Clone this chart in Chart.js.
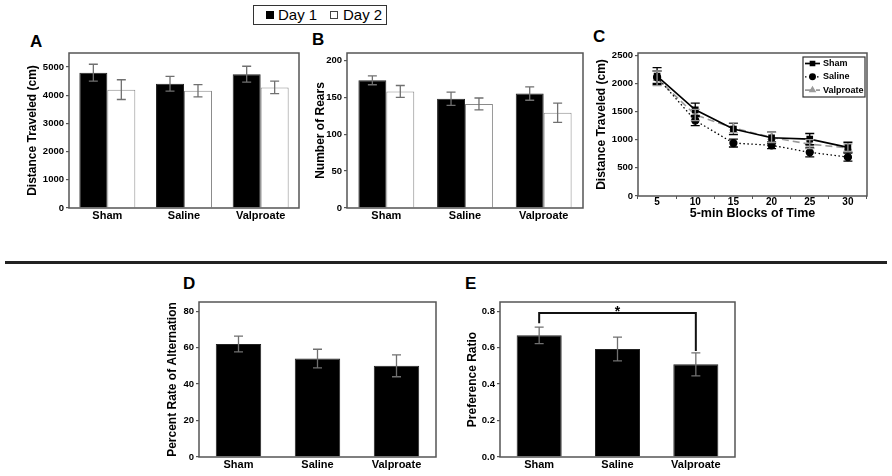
<!DOCTYPE html>
<html>
<head>
<meta charset="utf-8">
<script src="https://cdn.jsdelivr.net/npm/chart.js@4.4.0/dist/chart.umd.min.js"></script>
<style>
  body { margin: 0; background: #fff; width: 892px; height: 476px; position: relative; overflow: hidden;
         font-family: "Liberation Sans", Arial, sans-serif; }
  .panel { position: absolute; }
  .letter { position: absolute; font-weight: bold; font-size: 17px; line-height: 17px; }
  #divider { position: absolute; left: 5px; top: 261px; width: 882px; height: 2.5px; background: #222; }
  #dayLegend { position: absolute; left: 253px; top: 5px; width: 134px; height: 20px; box-sizing: border-box;
               border: 1px solid #333; font-size: 15px; }
  #dayLegend span { position: absolute; }
  .sq { width: 8px; height: 8px; box-sizing: border-box; top: 5px; }
</style>
</head>
<body>
<div id="dayLegend">
  <span class="sq" style="left:12px;background:#000"></span>
  <span style="left:24px;top:0;line-height:18px">Day 1</span>
  <span class="sq" style="left:76px;border:1px solid #444;background:#fff"></span>
  <span style="left:89px;top:0;line-height:18px">Day 2</span>
</div>
<div class="letter" style="left:30px;top:33px">A</div>
<div class="letter" style="left:312px;top:31px">B</div>
<div class="letter" style="left:593px;top:28px">C</div>
<div class="letter" style="left:183px;top:275px">D</div>
<div class="letter" style="left:465px;top:275px">E</div>
<div id="divider"></div>

<div class="panel" id="pA"><canvas id="cA"></canvas></div>
<div class="panel" id="pB"><canvas id="cB"></canvas></div>
<div class="panel" id="pC"><canvas id="cC"></canvas></div>
<div class="panel" id="pD"><canvas id="cD"></canvas></div>
<div class="panel" id="pE"><canvas id="cE"></canvas></div>

<script>
// groups and days
const groups = ["Sham", "Saline", "Valproate"];
const dayLabels = ["Day 1", "Day 2"];

// A - distance traveled
const distDay1 = [4800, 4410, 4750];
const distDay1Err = [300, 260, 280];
const distDay2 = [4200, 4160, 4280];
const distDay2Err = [350, 220, 220];
const distTicks = [0, 1000, 2000, 3000, 4000, 5000];

// B - rears
const rearsDay1 = [173, 148, 155];
const rearsDay1Err = [6, 9, 9];
const rearsDay2 = [158, 141, 129];
const rearsDay2Err = [8, 8, 13];
const rearsTicks = [0, 50, 100, 150, 200];

// C - time course
const timeBlocks = ["5", "10", "15", "20", "25", "30"];
const seriesC = ["Sham", "Saline", "Valproate"];
const shamTime = [2130, 1530, 1190, 1035, 1010, 865];
const shamTimeErr = [150, 120, 100, 100, 100, 90];
const salineTime = [2110, 1340, 940, 900, 775, 690];
const salineTimeErr = [110, 90, 70, 60, 80, 70];
const valproateTime = [2090, 1440, 1210, 1040, 920, 855];
const valproateTimeErr = [130, 100, 90, 90, 80, 70];
const timeTicks = [0, 500, 1000, 1500, 2000, 2500];

// D - alternation
const alternation = [62, 54, 50];
const alternationErr = [4.3, 5.1, 6];
const altTicks = [0, 20, 40, 60, 80];

// E - preference ratio
const prefRatio = [0.667, 0.592, 0.508];
const prefErr = [0.045, 0.065, 0.063];
const prefTicks = [0, 0.2, 0.4, 0.6, 0.8];
const sigLevel = 0.79;

Chart.defaults.font.family = '"Liberation Sans", Arial, sans-serif';
Chart.defaults.font.weight = "bold";
Chart.defaults.color = "#000";
Chart.defaults.animation = false;

const PAD_TOP = 12, PAD_RIGHT = 8;

// size the wrapper so the plot area lands on L,T,R,B
function place(id, L, T, R, B, yAxW, xAxH) {
  const div = document.getElementById(id);
  div.style.left = (L - yAxW) + "px";
  div.style.top = (T - PAD_TOP) + "px";
  div.style.width = (R - L + yAxW + PAD_RIGHT) + "px";
  div.style.height = (B - T + PAD_TOP + xAxH) + "px";
}

const plotBox = {
  id: "plotBox",
  afterDraw(chart) {
    const a = chart.chartArea, c = chart.ctx;
    c.save();
    c.strokeStyle = "#555";
    c.lineWidth = 1.5;
    c.strokeRect(a.left, a.top, a.right - a.left, a.bottom - a.top);
    c.restore();
  }
};

const errorBars = {
  id: "errorBars",
  afterDatasetsDraw(chart) {
    const c = chart.ctx, y = chart.scales.y;
    chart.data.datasets.forEach((ds, i) => {
      if (!ds.errors) return;
      const meta = chart.getDatasetMeta(i);
      c.save();
      c.strokeStyle = ds.errorColor || "#707070";
      c.lineWidth = 1.3;
      meta.data.forEach((el, j) => {
        const top = y.getPixelForValue(ds.data[j] + ds.errors[j]);
        const bot = y.getPixelForValue(ds.data[j] - ds.errors[j]);
        c.beginPath();
        c.moveTo(el.x, top); c.lineTo(el.x, bot);
        c.moveTo(el.x - 4.5, top); c.lineTo(el.x + 4.5, top);
        c.moveTo(el.x - 4.5, bot); c.lineTo(el.x + 4.5, bot);
        c.stroke();
      });
      c.restore();
    });
  }
};

function yScale(max, ticks, title, width, fmt) {
  return {
    min: 0,
    max: max,
    afterBuildTicks: (s) => { s.ticks = ticks.map((v) => ({ value: v })); },
    afterFit: (s) => { s.width = width; },
    grid: { drawOnChartArea: false, tickLength: 3, color: "#555", lineWidth: 1.2 },
    border: { display: false },
    ticks: { font: { size: 9.5, weight: "bold" }, padding: 2, callback: fmt || ((v) => String(v)) },
    title: { display: true, text: title, font: { size: 12, weight: "bold" }, padding: { top: 4, bottom: 4 } }
  };
}

function xCat(height) {
  return {
    afterFit: (s) => { s.height = height; },
    grid: { display: false, drawTicks: false },
    border: { display: false },
    ticks: { font: { size: 11, weight: "bold" }, padding: 1, maxRotation: 0, autoSkip: false }
  };
}

function barChart(id, datasets, yOpts, catPct, extra) {
  return new Chart(document.getElementById(id), {
    type: "bar",
    data: { labels: groups, datasets: datasets },
    options: {
      responsive: true,
      maintainAspectRatio: false,
      layout: { padding: { top: PAD_TOP, right: PAD_RIGHT } },
      datasets: { bar: { categoryPercentage: catPct, barPercentage: 1 } },
      plugins: { legend: { display: false }, tooltip: { enabled: false } },
      scales: { x: xCat(16), y: yOpts }
    },
    plugins: [errorBars, plotBox].concat(extra || [])
  });
}

function day1(data, err) {
  return { label: dayLabels[0], data: data, errors: err, backgroundColor: "#000", borderColor: "#222", borderWidth: 1 };
}
function day2(data, err) {
  return { label: dayLabels[1], data: data, errors: err, backgroundColor: "#fff", borderColor: "#8a8a8a", borderWidth: 1 };
}

// A
place("pA", 69, 53, 299, 208, 48, 16);
barChart("cA", [day1(distDay1, distDay1Err), day2(distDay2, distDay2Err)],
  yScale(5500, distTicks, "Distance Traveled (cm)", 48), 0.73);

// B
place("pB", 347, 53, 583, 208, 38, 16);
barChart("cB", [day1(rearsDay1, rearsDay1Err), day2(rearsDay2, rearsDay2Err)],
  yScale(210, rearsTicks, "Number of Rears", 38), 0.71);

// C
const lineLegend = {
  id: "lineLegend",
  afterDraw(chart) {
    const a = chart.chartArea, c = chart.ctx;
    const bw = 62, bh = 40, bx = a.right - bw - 2, by = a.top + 4;
    c.save();
    c.fillStyle = "#fff";
    c.fillRect(bx, by, bw, bh);
    c.strokeStyle = "#333";
    c.lineWidth = 1.2;
    c.strokeRect(bx, by, bw, bh);
    chart.data.datasets.forEach((ds, i) => {
      const y = by + 6.5 + i * 13.3;
      c.strokeStyle = ds.borderColor;
      c.lineWidth = ds.borderWidth;
      c.setLineDash(ds.borderDash || []);
      c.beginPath(); c.moveTo(bx + 2, y); c.lineTo(bx + 17, y); c.stroke();
      c.setLineDash([]);
      c.fillStyle = ds.backgroundColor;
      Chart.helpers.drawPoint(c, { pointStyle: ds.pointStyle, radius: 2.8, borderWidth: 1, rotation: 0 }, bx + 9.5, y);
      c.fillStyle = "#000";
      c.font = 'bold 9px "Liberation Sans", Arial, sans-serif';
      c.textBaseline = "middle";
      c.textAlign = "left";
      c.fillText(ds.label, bx + 20, y);
    });
    c.restore();
  }
};

place("pC", 638, 53, 867, 196, 48, 28);
new Chart(document.getElementById("cC"), {
  type: "line",
  data: {
    labels: timeBlocks,
    datasets: [
      { label: seriesC[0], data: shamTime, errors: shamTimeErr, errorColor: "#000",
        borderColor: "#000", backgroundColor: "#000", borderWidth: 1.7, pointStyle: "rect", pointRadius: 3.5 },
      { label: seriesC[1], data: salineTime, errors: salineTimeErr, errorColor: "#000",
        borderColor: "#000", backgroundColor: "#000", borderWidth: 1.3, borderDash: [1.5, 2.5], pointStyle: "circle", pointRadius: 3.5 },
      { label: seriesC[2], data: valproateTime, errors: valproateTimeErr, errorColor: "#999",
        borderColor: "#9a9a9a", backgroundColor: "#9a9a9a", borderWidth: 1.6, borderDash: [7, 4], pointStyle: "triangle", pointRadius: 3.5 }
    ]
  },
  options: {
    responsive: true,
    maintainAspectRatio: false,
    layout: { padding: { top: PAD_TOP, right: PAD_RIGHT } },
    plugins: { legend: { display: false }, tooltip: { enabled: false } },
    scales: {
      x: {
        offset: true,
        afterFit: (s) => { s.height = 28; },
        grid: { offset: true, drawOnChartArea: false, tickLength: 3, color: "#555" },
        border: { display: false },
        ticks: { font: { size: 10, weight: "bold" }, padding: -3, maxRotation: 0 },
        title: { display: true, text: "5-min Blocks of Time", font: { size: 12.5, weight: "bold" }, padding: { top: 0, bottom: 3 } }
      },
      y: yScale(2540, timeTicks, "Distance Traveled (cm)", 48)
    }
  },
  plugins: [errorBars, plotBox, lineLegend]
});

// D
place("pD", 199, 302, 436, 457, 38, 16);
barChart("cD", [{ data: alternation, errors: alternationErr, backgroundColor: "#000", borderColor: "#222", borderWidth: 1 }],
  yScale(85, altTicks, "Percent Rate of Alternation", 38), 0.575);

// E
const sigBracket = {
  id: "sigBracket",
  afterDatasetsDraw(chart) {
    const y = chart.scales.y, meta = chart.getDatasetMeta(0), c = chart.ctx;
    const x1 = meta.data[0].x, x2 = meta.data[2].x;
    const yTop = y.getPixelForValue(sigLevel);
    const y1 = y.getPixelForValue(prefRatio[0] + prefErr[0]) - 4;
    const y2 = y.getPixelForValue(prefRatio[2] + prefErr[2]) - 2;
    c.save();
    c.strokeStyle = "#111";
    c.lineWidth = 2;
    c.beginPath();
    c.moveTo(x1, y1); c.lineTo(x1, yTop); c.lineTo(x2, yTop); c.lineTo(x2, y2);
    c.stroke();
    c.fillStyle = "#000";
    c.font = 'bold 14px "Liberation Sans", Arial, sans-serif';
    c.textAlign = "center";
    c.textBaseline = "alphabetic";
    c.fillText("*", (x1 + x2) / 2, yTop + 3);
    c.restore();
  }
};

place("pE", 500, 302, 735, 457, 39, 16);
barChart("cE", [{ data: prefRatio, errors: prefErr, backgroundColor: "#000", borderColor: "#222", borderWidth: 1 }],
  yScale(0.85, prefTicks, "Preference Ratio", 39, (v) => v.toFixed(1)), 0.575, [sigBracket]);
</script>
</body>
</html>
